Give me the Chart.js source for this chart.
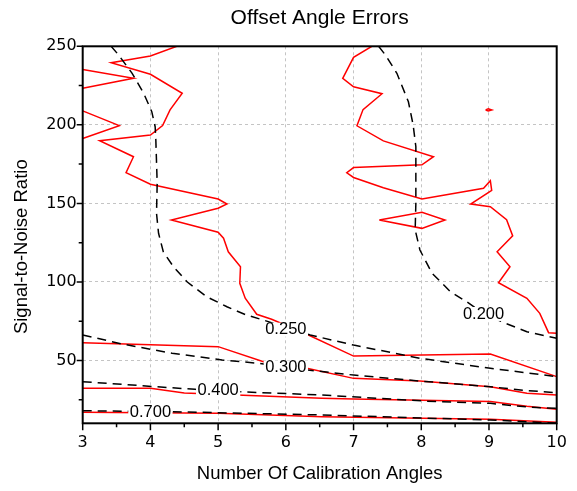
<!DOCTYPE html>
<html><head><meta charset="utf-8">
<script src="https://cdn.jsdelivr.net/npm/chart.js@4/dist/chart.umd.min.js"></script>
<style>html,body{margin:0;padding:0;background:#fff}canvas{display:block}</style>
</head><body>
<canvas id="c" width="577" height="491"></canvas>
<script>
// ---- axes ----
const xTicks = [3,4,5,6,7,8,9,10];
const yTicks = [50,100,150,200,250];
const xMinor = [3.5,4.5,5.5,6.5,7.5,8.5,9.5];
const yMinor = [25,75,125,175,225];

// ---- red solid contours ----
const red250aX = [4.39,4.0,3.42,4.0,4.47,4.29,4.18,4.0,3.25,3.75,3.64,4.0,5.0,5.13,5.0,4.31,5.0,5.08,5.15,5.33,5.32,5.40,5.57,5.79,6.31,7.0,9.02,10];
const red250aY = [250,243.8,239.6,232.2,220.1,209.5,199.5,193.5,189.9,179.7,169.5,162.2,152.8,149.6,146.9,139.4,131.6,127.8,119.2,109.7,99.1,89.6,79.4,76.2,66.7,52.8,54.1,39.7];
const red250bX = [3,3.75,3];
const red250bY = [235.2,229.6,223.3];
const red250cX = [3,3.54,3];
const red250cY = [208.9,199.5,191.3];
const red200aX = [7.27,7.0,6.84,7.0,7.42,7.14,7.05,7.44,8.18,8.01,7.0,6.90,7.0,7.44,8.01,8.92,9.02,9.04,8.73,9.02,9.26,9.35,9.12,9.31,9.14,9.56,9.75,9.88,10];
const red200aY = [250,243.0,229.6,224.2,219.8,209.7,199.4,189.8,179.7,174.6,172.8,169.5,166.5,160.0,152.8,159.6,164.4,158.2,149.6,147.9,139.6,129.3,119.2,109.7,99.5,89.6,80.0,67.7,67.3];
const red200bX = [7.38,8.01,8.35,8.01,7.38];
const red200bY = [139.4,144.3,139.4,134.1,139.4];
const red200cX = [8.95,8.99,9.04,8.99,8.95];
const red200cY = [209.5,210.2,209.5,208.9,209.5];
const red300X = [3,5.0,5.67,6.31,7.0,7.98,9.02,9.56,10];
const red300Y = [61.3,58.8,49.2,45.0,38.6,36.9,33.3,29.1,28.0];
const red400X = [3,4.0,4.5,6.53,7.0,9.02,9.56,10];
const red400Y = [32.3,32.3,29.3,25.9,25.5,23.8,20.8,18.9];
const red700X = [3,5.0,6.53,9.02,10];
const red700Y = [17.0,16.4,14.2,12.5,10.6];

// ---- black dashed contours ----
const dash200X = [7.37,7.47,7.64,7.81,7.88,7.92,7.92,7.91,7.98,8.16,8.43,8.67,8.92,9.24,9.56,10];
const dash200Y = [250,244.5,232.8,214.7,199.9,186.1,150,133.1,120.3,105.5,93.8,87.4,79.8,73.7,68.3,64.1];
const dash250X = [3.42,3.53,3.73,3.90,4.02,4.07,4.08,4.10,4.09,4.12,4.19,4.34,4.54,4.83,5.13,5.42,5.67,6.36,7.0,7.98,9.02,10];
const dash250Y = [250,244.5,232.8,220.1,208.4,198.8,190.4,162.8,143.7,131.0,119.2,109.7,100.1,90.6,84.2,78.9,75.7,66.2,59.8,51.4,45.0,39.7];
const dash300X = [3,3.58,4.32,5.06,5.60,6.33,7.0,7.98,9.02,9.56,10];
const dash300Y = [66.2,60.5,54.6,50.3,48.2,43.9,40.7,36.9,33.3,30.8,29.5];
const dash400X = [3,4.66,5.30,6.53,8.03,9.02,9.56,10];
const dash400Y = [36.5,31.6,30.1,28.0,24.2,22.7,20.4,19.5];
const dash700X = [3,4.32,6.53,9.02,10];
const dash700Y = [18.0,17.4,15.3,12.1,10.0];

// ---- contour labels ----
const labelText = ['0.200','0.250','0.300','0.400','0.700'];
const labelX = [8.92,6.0,6.0,5.0,4.0];
const labelY = [79.6,69.6,45.5,30.6,17.0];

const pts = (xs, ys) => xs.map((v, i) => ({x: v, y: ys[i]}));
const redSet = (xs, ys) => ({data: pts(xs, ys), showLine: true, borderColor: '#ff0000', borderWidth: 1.5, pointRadius: 0, tension: 0, fill: false, order: 1});
const dashSet = (xs, ys) => ({data: pts(xs, ys), showLine: true, borderColor: '#000000', borderWidth: 1.5, borderDash: [9, 6], pointRadius: 0, tension: 0, fill: false, order: 0});

const datasets = [
  redSet(red250aX, red250aY), redSet(red250bX, red250bY), redSet(red250cX, red250cY),
  redSet(red200aX, red200aY), redSet(red200bX, red200bY), redSet(red200cX, red200cY),
  redSet(red300X, red300Y), redSet(red400X, red400Y), redSet(red700X, red700Y),
  dashSet(dash200X, dash200Y), dashSet(dash250X, dash250Y), dashSet(dash300X, dash300Y),
  dashSet(dash400X, dash400Y), dashSet(dash700X, dash700Y)
];

const AREA = {left: 82.7, right: 556.7, top: 46.3, bottom: 423.3};
const W = 577, H = 491;
const TFONT = '"Liberation Sans", Arial, sans-serif';

const decor = {
  id: 'decor',
  afterDatasetsDraw(chart) {
    const {ctx, scales: {x, y}} = chart;
    ctx.save();
    ctx.font = '16.5px ' + TFONT;
    ctx.textAlign = 'center';
    ctx.textBaseline = 'middle';
    labelText.forEach((t, i) => {
      const px = x.getPixelForValue(labelX[i]);
      const py = y.getPixelForValue(labelY[i]);
      const w = ctx.measureText(t).width + 3;
      ctx.fillStyle = '#ffffff';
      ctx.fillRect(px - w / 2, py - 7, w, 14);
      ctx.fillStyle = '#000000';
      ctx.fillText(t, px, py);
    });
    ctx.restore();
  },
  afterDraw(chart) {
    const {ctx, chartArea: a, scales: {x, y}} = chart;
    ctx.save();
    ctx.strokeStyle = '#000';
    ctx.lineWidth = 2;
    ctx.strokeRect(a.left, a.top, a.right - a.left, a.bottom - a.top);
    ctx.lineWidth = 1.5;
    ctx.beginPath();
    xTicks.forEach(v => { const p = x.getPixelForValue(v); ctx.moveTo(p, a.bottom); ctx.lineTo(p, a.bottom + 7); });
    xMinor.forEach(v => { const p = x.getPixelForValue(v); ctx.moveTo(p, a.bottom); ctx.lineTo(p, a.bottom + 4); });
    yTicks.forEach(v => { const p = y.getPixelForValue(v); ctx.moveTo(a.left, p); ctx.lineTo(a.left - 6, p); });
    yMinor.forEach(v => { const p = y.getPixelForValue(v); ctx.moveTo(a.left, p); ctx.lineTo(a.left - 4, p); });
    ctx.stroke();
    // y axis title
    ctx.fillStyle = '#000';
    ctx.font = '18.5px ' + TFONT;
    ctx.textAlign = 'center';
    ctx.textBaseline = 'middle';
    ctx.translate(21.5, 246.7);
    ctx.rotate(-Math.PI / 2);
    ctx.fillText('Signal-to-Noise Ratio', 0, 0);
    ctx.restore();
  }
};

new Chart(document.getElementById('c'), {
  type: 'scatter',
  data: {datasets},
  options: {
    responsive: false,
    animation: false,
    layout: {padding: {left: 0, right: W - AREA.right, top: 0, bottom: 0}},
    plugins: {
      legend: {display: false},
      tooltip: {enabled: false},
      title: {
        display: true, text: 'Offset Angle Errors', fullSize: false, color: '#000',
        font: {family: TFONT, size: 21, weight: 'normal', lineHeight: 1.2},
        padding: {top: 5.5, bottom: AREA.top - 5.5 - 25.2}
      }
    },
    scales: {
      x: {
        type: 'linear', min: 3, max: 10,
        afterBuildTicks: s => { s.ticks = xTicks.map(v => ({value: v})); },
        afterFit: s => { s.height = H - AREA.bottom; },
        ticks: {color: '#000', font: {family: '"DejaVu Sans", Verdana, sans-serif', size: 16}, padding: 10, maxRotation: 0, autoSkip: false},
        grid: {color: '#c4c4c4', lineWidth: 1, drawTicks: false},
        border: {display: false, dash: [3, 3]},
        title: {display: true, text: 'Number Of Calibration Angles', color: '#000', font: {family: TFONT, size: 18.5, lineHeight: 1.2}, padding: {top: 0, bottom: 6}}
      },
      y: {
        type: 'linear', min: 10, max: 250,
        afterBuildTicks: s => { s.ticks = yTicks.map(v => ({value: v})); },
        afterFit: s => { s.width = AREA.left; },
        ticks: {color: '#000', font: {family: '"DejaVu Sans", Verdana, sans-serif', size: 16}, padding: 6, autoSkip: false},
        grid: {color: '#c4c4c4', lineWidth: 1, drawTicks: false},
        border: {display: false, dash: [3, 3]}
      }
    }
  },
  plugins: [decor]
});
</script>
</body></html>
